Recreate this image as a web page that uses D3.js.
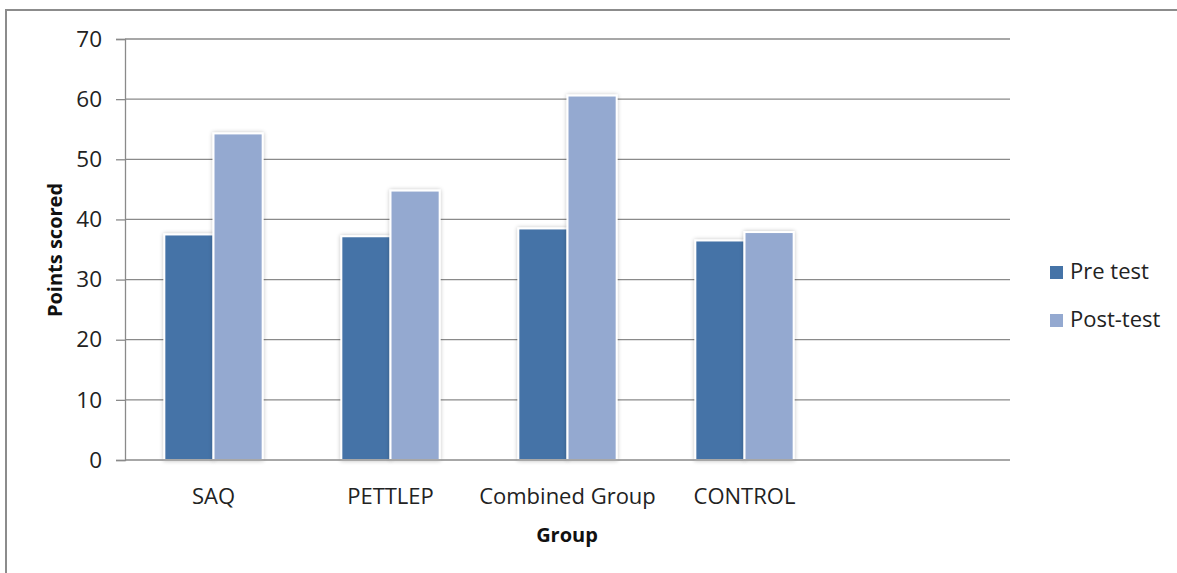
<!DOCTYPE html>
<html>
<head>
<meta charset="utf-8">
<script src="https://cdn.jsdelivr.net/npm/d3@7"></script>
<style>
  html, body { margin: 0; padding: 0; background: #fff; }
  svg { display: block; font-family: "Open Sans", "Liberation Sans", sans-serif; }
</style>
</head>
<body>
<svg id="chart" width="1177" height="573"></svg>
<script>
const categories = ["SAQ", "PETTLEP", "Combined Group", "CONTROL", ""];
const seriesNames = ["Pre test", "Post-test"];
const preTest = [37.5, 37.2, 38.5, 36.5, null];
const postTest = [54.3, 44.8, 60.6, 37.9, null];
const yTicks = [0, 10, 20, 30, 40, 50, 60, 70];
const colors = ["#4573A7", "#94A9D0"];

const svg = d3.select("#chart");
const W = 1177, H = 573;
const m = { left: 125, right: 1010, top: 39, bottom: 460 };

// outer frame
svg.append("path")
  .attr("d", `M6,${H} L6,10 L${W},10`)
  .attr("fill", "none").attr("stroke", "#8c8c8c").attr("stroke-width", 2);

const defs = svg.append("defs");
const f = defs.append("filter").attr("id", "shadow")
  .attr("x", "-20%").attr("y", "-10%").attr("width", "140%").attr("height", "120%");
f.append("feGaussianBlur").attr("in", "SourceAlpha").attr("stdDeviation", 2).attr("result", "b");
f.append("feComponentTransfer").attr("in", "b").attr("result", "s")
  .append("feFuncA").attr("type", "linear").attr("slope", 0.25);
const mg = f.append("feMerge");
mg.append("feMergeNode").attr("in", "s");
mg.append("feMergeNode").attr("in", "SourceGraphic");

const x = d3.scaleBand().domain(d3.range(categories.length)).range([m.left, m.right]).paddingInner(0).paddingOuter(0);
const y = d3.scaleLinear().domain([0, 70]).range([m.bottom, m.top]);

// gridlines
svg.append("g").selectAll("line").data(yTicks.filter(d => d > 0)).join("line")
  .attr("x1", m.left).attr("x2", m.right)
  .attr("y1", d => y(d)).attr("y2", d => y(d))
  .attr("stroke", "#8a8a8a").attr("stroke-width", 1.3);

// y axis
const yAxis = svg.append("g").attr("transform", `translate(${m.left},0)`)
  .call(d3.axisLeft(y).tickValues(yTicks).tickSize(9).tickPadding(14));
yAxis.select(".domain").attr("stroke", "#8a8a8a").attr("stroke-width", 1.3);
yAxis.selectAll(".tick line").attr("stroke", "#8a8a8a").attr("stroke-width", 1.3);
yAxis.selectAll(".tick text").attr("font-size", 22.5).attr("fill", "#222")
  .attr("font-family", "'Open Sans', sans-serif");

// bars
const bw = x.bandwidth() / 3.6;
const groups = [preTest, postTest];
groups.forEach((vals, si) => {
  svg.append("g").selectAll("rect").data(vals.map((v, i) => ({ v, i })).filter(d => d.v != null)).join("rect")
    .attr("x", d => x(d.i) + x.bandwidth() / 2 + (si === 0 ? -bw : 0))
    .attr("width", bw)
    .attr("y", d => y(d.v))
    .attr("height", d => y(0) - y(d.v))
    .attr("fill", colors[si])
    .attr("stroke", "#fff").attr("stroke-width", 2)
    .attr("filter", "url(#shadow)");
});

// x axis line
svg.append("line").attr("x1", m.left).attr("x2", m.right).attr("y1", y(0)).attr("y2", y(0))
  .attr("stroke", "#8a8a8a").attr("stroke-width", 1.3);

// category labels
svg.append("g").selectAll("text").data(categories).join("text")
  .attr("x", (d, i) => x(i) + x.bandwidth() / 2)
  .attr("y", 504)
  .attr("text-anchor", "middle")
  .attr("font-size", 22).attr("fill", "#222")
  .text(d => d);

// axis titles
svg.append("text").attr("x", 567).attr("y", 542).attr("text-anchor", "middle")
  .attr("font-size", 20).attr("font-weight", "bold").attr("fill", "#111").text("Group");
svg.append("text").attr("transform", "translate(62,250) rotate(-90)").attr("text-anchor", "middle")
  .attr("font-size", 20).attr("font-weight", "bold").attr("fill", "#111").text("Points scored");

// legend
const lg = svg.append("g").attr("transform", "translate(1050,266)");
seriesNames.forEach((n, i) => {
  const g = lg.append("g").attr("transform", `translate(0,${i * 48})`);
  g.append("rect").attr("width", 13).attr("height", 13).attr("fill", colors[i]);
  g.append("text").attr("x", 20).attr("y", 13).attr("font-size", 22).attr("fill", "#222").text(n);
});
</script>
</body>
</html>
